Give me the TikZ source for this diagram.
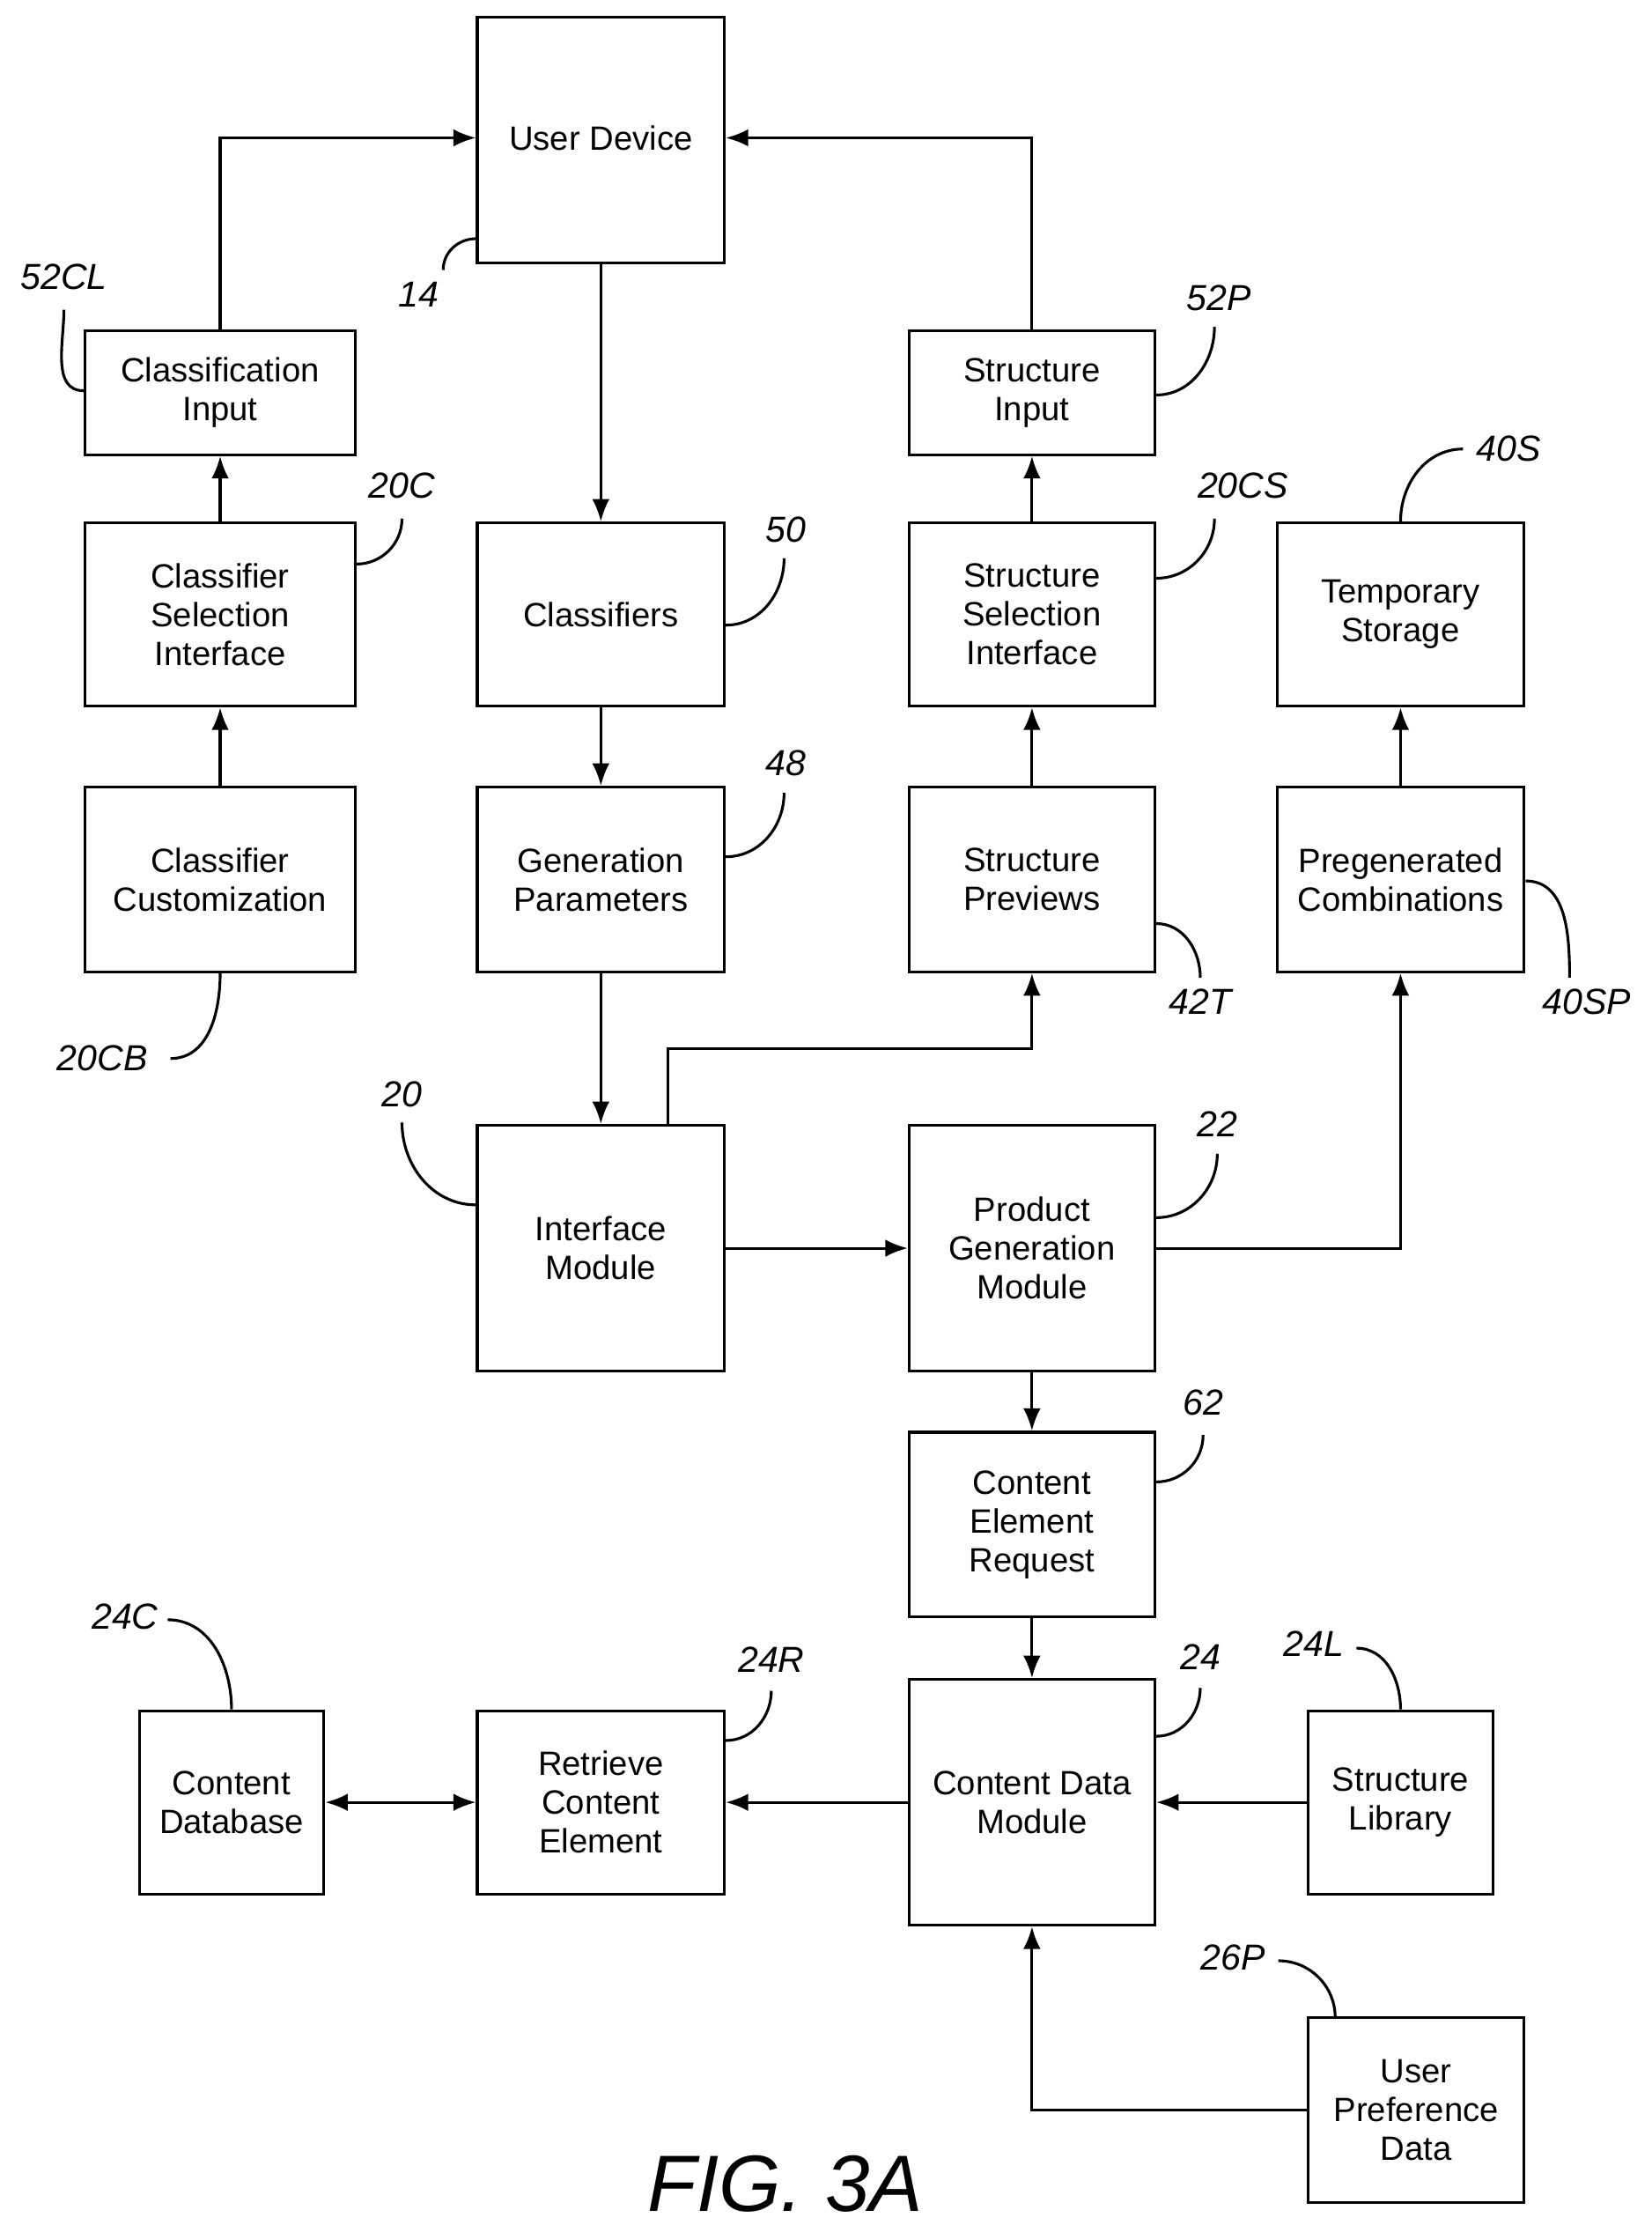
\documentclass[tikz,border=0pt]{standalone}
\usepackage{fontspec}
\setmainfont{Liberation Sans}
\usetikzlibrary{arrows.meta}

\begin{document}
\begin{tikzpicture}[x=0.02cm,y=-0.02cm,
  blk/.style={draw,line width=1.1pt,inner sep=0pt,align=center,
    font=\fontsize{13.5}{15.5}\selectfont},
  arr/.style={line width=1.1pt,-{Latex[length=9pt,width=7pt]}},
  dbl/.style={line width=1.1pt,{Latex[length=9pt,width=7pt]}-{Latex[length=9pt,width=7pt]}},
  lead/.style={line width=1.1pt},
  ref/.style={font=\itshape\fontsize{14.5}{16}\selectfont}]
\useasboundingbox (0,0) rectangle (1163,1566);

% top row
\node[blk,minimum width=3.48cm,minimum height=3.46cm] (ud) at (423,98.5) {};
\node[font=\fontsize{13.5}{15.5}\selectfont] (udt) at (423,97) {User Device};
\node[blk,minimum width=3.8cm,minimum height=1.74cm] (ci) at (155,276.5) {Classification\\Input};
\node[blk,minimum width=3.46cm,minimum height=1.74cm] (si) at (726.5,276.5) {Structure\\Input};

\node[blk,minimum width=3.8cm,minimum height=2.58cm] (csi) at (155,432.5) {Classifier\\Selection\\Interface};
\node[blk,minimum width=3.48cm,minimum height=2.58cm] (cl) at (423,432.5) {Classifiers};
\node[blk,minimum width=3.46cm,minimum height=2.58cm] (ssi) at (726.5,432.5) {Structure\\Selection\\Interface};
\node[blk,minimum width=3.48cm,minimum height=2.58cm] (ts) at (986,432.5) {Temporary\\Storage};

\node[blk,minimum width=3.8cm,minimum height=2.6cm] (cc) at (155,619) {Classifier\\Customization};
\node[blk,minimum width=3.48cm,minimum height=2.6cm] (gp) at (423,619) {Generation\\Parameters};
\node[blk,minimum width=3.46cm,minimum height=2.6cm] (sp) at (726.5,619) {Structure\\Previews};
\node[blk,minimum width=3.48cm,minimum height=2.6cm] (pc) at (986,619) {Pregenerated\\Combinations};

% middle
\node[blk,minimum width=3.48cm,minimum height=3.46cm] (im) at (423,878.5) {Interface\\Module};
\node[blk,minimum width=3.46cm,minimum height=3.46cm] (pgm) at (726.5,878.5) {Product\\Generation\\Module};
\node[blk,minimum width=3.46cm,minimum height=2.6cm] (cer) at (726.5,1073) {Content\\Element\\Request};

% bottom
\node[blk,minimum width=2.6cm,minimum height=2.58cm] (cd) at (163,1268.5) {Content\\Database};
\node[blk,minimum width=3.48cm,minimum height=2.58cm] (rce) at (423,1268.5) {Retrieve\\Content\\Element};
\node[blk,minimum width=3.46cm,minimum height=3.46cm] (cdm) at (726.5,1268.5) {Content Data\\Module};
\node[blk,minimum width=2.6cm,minimum height=2.58cm] (sl) at (986,1268.5) {Structure\\Library};
\node[blk,minimum width=3.04cm,minimum height=2.6cm] (upd) at (997,1485) {User\\Preference\\Data};

% connectors
\draw[arr] (ci.north) |- (ud.west|-udt);
\draw[arr] (si.north) |- (ud.east|-udt);
\draw[arr] (ud.south) -- (cl.north);
\draw[arr] (csi) -- (ci);
\draw[arr] (cc) -- (csi);
\draw[arr] (cl) -- (gp);
\draw[arr] (gp) -- (im);
\draw[arr] (im.north-|470,0) |- (600,738) -| (sp.south);
\draw[arr] (sp) -- (ssi);
\draw[arr] (ssi) -- (si);
\draw[arr] (im) -- (pgm);
\draw[arr] (pgm.east) -| (pc.south);
\draw[arr] (pc) -- (ts);
\draw[arr] (pgm) -- (cer);
\draw[arr] (cer) -- (cdm);
\draw[arr] (cdm) -- (rce);
\draw[dbl] (rce) -- (cd);
\draw[arr] (sl) -- (cdm);
\draw[arr] (upd.west) -| (cdm.south);

% reference numerals
\node[ref] (r52cl) at (45,195) {52CL};
\draw[lead] (ci.west|-0,275) to[out=180,in=-90] (45,218);
\node[ref] (r14) at (295,207) {14};
\draw[lead] (ud.west|-0,168) to[out=180,in=90] (312,190);
\node[ref] (r52p) at (858,210) {52P};
\draw[lead] (si.east|-0,278) to[out=0,in=-90] (855,230);
\node[ref] (r20c) at (283,342) {20C};
\draw[lead] (csi.east|-0,397) to[out=0,in=-90] (283,365);
\node[ref] (r50) at (553,373) {50};
\draw[lead] (cl.east|-0,440) to[out=0,in=-90] (552,393);
\node[ref] (r20cs) at (875,342) {20CS};
\draw[lead] (ssi.east|-0,407) to[out=0,in=-90] (855,365);
\node[ref] (r40s) at (1062,316) {40S};
\draw[lead] (ts.north) to[out=90,in=180] (1030,316);
\node[ref] (r48) at (553,537) {48};
\draw[lead] (gp.east|-0,603) to[out=0,in=-90] (552,558);
\node[ref] (r42t) at (845,705) {42T};
\draw[lead] (sp.east|-0,650) to[out=0,in=90] (845,688);
\node[ref] (r40sp) at (1117,705) {40SP};
\draw[lead] (pc.east|-0,620) to[out=0,in=90] (1105,688);
\node[ref] (r20cb) at (72,745) {20CB};
\draw[lead] (cc.south) to[out=-90,in=0] (120,745);
\node[ref] (r20) at (283,770) {20};
\draw[lead] (im.west|-0,848) to[out=180,in=-90] (283,790);
\node[ref] (r22) at (857,791) {22};
\draw[lead] (pgm.east|-0,857) to[out=0,in=-90] (857,812);
\node[ref] (r62) at (847,987) {62};
\draw[lead] (cer.east|-0,1043) to[out=0,in=-90] (847,1010);
\node[ref] (r24c) at (88,1138) {24C};
\draw[lead] (cd.north) to[out=90,in=0] (118,1140);
\node[ref] (r24r) at (543,1168) {24R};
\draw[lead] (rce.east|-0,1225) to[out=0,in=-90] (543,1190);
\node[ref] (r24) at (845,1166) {24};
\draw[lead] (cdm.east|-0,1222) to[out=0,in=-90] (845,1188);
\node[ref] (r24l) at (925,1157) {24L};
\draw[lead] (sl.north) to[out=90,in=0] (955,1160);
\node[ref] (r26p) at (868,1378) {26P};
\draw[lead] (940,1420) to[out=90,in=0] (900,1380);

\node[font=\itshape\fontsize{32}{36}\selectfont] (fig) at (553,1537) {FIG. 3A};
\end{tikzpicture}
\end{document}
